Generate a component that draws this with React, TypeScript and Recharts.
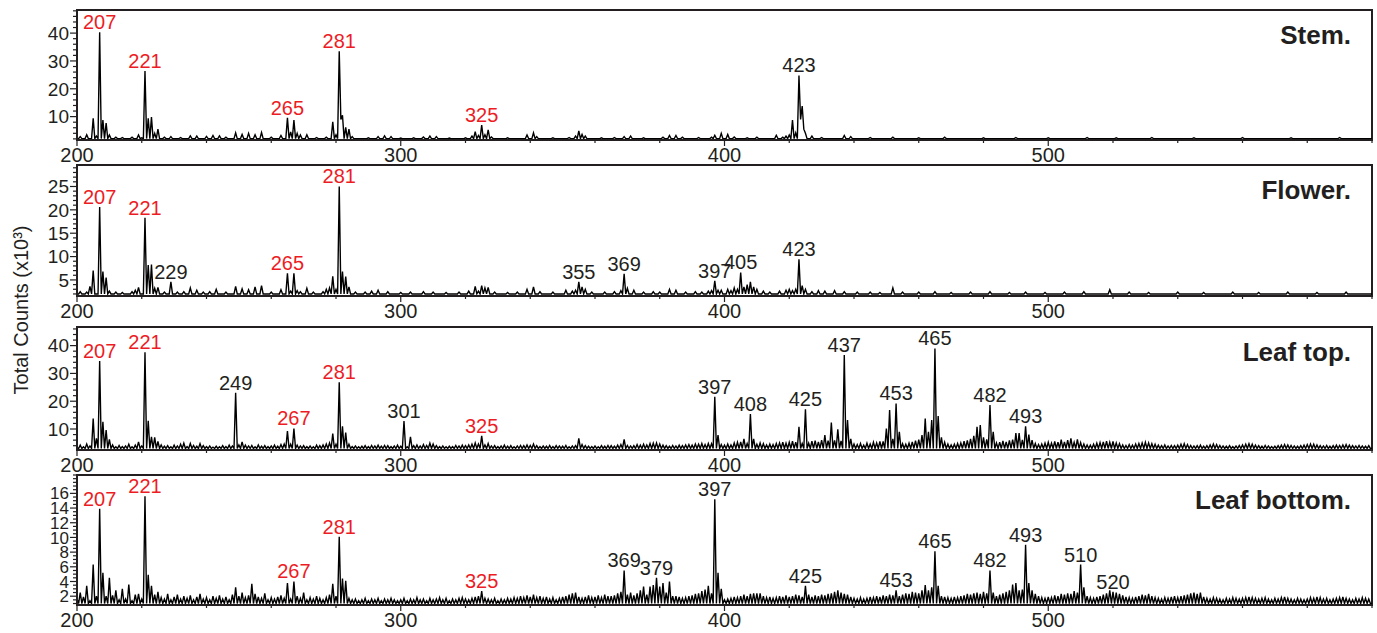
import React from "react";
import { LineChart, Line, XAxis, YAxis, ReferenceArea, ReferenceDot } from "recharts";

const ink = "#231f20";
const red = "#ed1c24";

// m/z ticks, labels only on the hundreds
const xTicks = [200, 220, 240, 260, 280, 300, 320, 340, 360, 380, 400, 420, 440, 460, 480, 500, 520, 540, 560, 580, 600];
const xLabels = [200, 300, 400, 500];

// Stem.
const stemFloor = 2.1;
const stemPeaks = [
	[201, 2.8], [203, 3.5], [205, 9.4], [206, 3.0], [207, 40.3], [208, 8.8], [209, 7.7], [210, 3.4], [212, 2.6], [214, 2.5],
	[217, 2.6], [219, 3.4], [220, 2.4], [221, 26.4], [222, 9.4], [223, 9.8], [224, 4.0], [225, 5.5], [227, 2.6], [229, 2.8],
	[232, 2.5], [235, 3.1], [237, 3.0], [240, 2.9], [242, 3.2], [244, 3.1], [246, 2.6], [249, 4.2], [251, 3.6], [253, 4.0],
	[255, 3.5], [257, 4.3], [260, 2.6], [263, 3.2], [265, 9.6], [266, 4.5], [267, 8.8], [268, 4.0], [269, 3.4], [271, 3.5],
	[274, 2.5], [277, 2.6], [279, 8.1], [280, 3.5], [281, 33.5], [281.5, 9.0], [282, 10.5], [283, 6.1], [284, 5.5], [285, 2.8],
	[290, 2.4], [293, 2.8], [295, 3.1], [297, 2.8], [300, 2.3], [304, 2.4], [307, 2.7], [309, 3.0], [311, 2.8], [315, 2.3],
	[320, 2.4], [322, 3.0], [323, 4.6], [324, 3.2], [325, 7.0], [326, 3.5], [327, 5.2], [328, 2.7], [333, 2.4], [339, 3.4],
	[341, 4.2], [342, 2.8], [347, 2.4], [352, 2.5], [354, 3.0], [355, 4.9], [356, 3.6], [357, 3.0], [362, 2.4], [366, 2.5],
	[369, 2.8], [371, 3.0], [375, 2.4], [381, 2.6], [383, 3.2], [385, 3.2], [387, 2.6], [392, 2.5], [396, 2.6], [397, 3.3],
	[399, 4.0], [401, 3.6], [403, 2.7], [407, 2.4], [410, 2.6], [416, 3.3], [418, 2.6], [419, 3.0], [420, 3.4], [421, 8.8],
	[422, 4.2], [423, 24.8], [423.5, 9.0], [424, 13.8], [424.5, 5.5], [425, 4.0], [427, 3.0], [430, 2.5], [437, 3.2], [439, 2.8],
	[445, 2.5], [452, 2.6], [460, 2.4], [468, 2.6], [480, 2.4], [490, 2.5], [500, 2.4], [512, 2.5], [521, 2.4], [532, 2.5],
	[545, 2.4], [560, 2.5], [575, 2.4], [590, 2.5],
];
const stemRed = [207, 221, 265, 281, 325];
const stemBlack = [423];

// Flower.
const flowerFloor = 2.0;
const flowerPeaks = [
	[201, 2.5], [203, 2.4], [204, 3.6], [205, 7.0], [207, 20.6], [208, 6.8], [209, 5.5], [210, 2.6], [212, 2.4], [214, 2.3],
	[217, 2.5], [218, 2.8], [219, 3.4], [221, 18.3], [222, 8.2], [223, 8.3], [224, 3.2], [225, 3.4], [227, 2.4], [229, 4.6],
	[231, 2.4], [233, 2.5], [235, 3.3], [237, 2.8], [239, 2.4], [241, 2.5], [243, 3.0], [246, 2.4], [249, 3.6], [251, 3.1],
	[253, 2.9], [255, 3.5], [257, 3.8], [260, 2.4], [263, 2.9], [265, 6.4], [266, 2.6], [267, 6.4], [268, 2.7], [269, 2.5],
	[271, 3.2], [273, 2.4], [276, 2.5], [277, 3.0], [278, 3.3], [279, 5.8], [280, 3.0], [281, 25.0], [282, 6.8], [283, 5.7],
	[284, 3.5], [286, 2.4], [289, 2.4], [291, 2.6], [293, 2.8], [296, 2.5], [300, 2.3], [303, 2.4], [307, 2.5], [310, 2.4],
	[314, 2.3], [318, 2.4], [321, 2.6], [323, 3.6], [324, 2.6], [325, 3.8], [326, 3.3], [327, 3.4], [329, 2.4], [333, 2.3],
	[336, 2.4], [339, 3.0], [341, 3.5], [343, 2.5], [347, 2.4], [351, 2.8], [353, 2.6], [354, 2.8], [355, 4.6], [356, 3.5],
	[357, 3.0], [359, 2.4], [363, 2.4], [366, 2.5], [368, 2.7], [369, 6.3], [370, 3.2], [372, 2.8], [375, 2.4], [378, 2.5],
	[380, 2.4], [383, 3.0], [385, 2.8], [388, 2.4], [391, 2.5], [393, 2.4], [395, 2.6], [396, 2.7], [397, 4.8], [398, 2.8],
	[399, 2.8], [401, 3.0], [402, 2.7], [403, 3.3], [404, 3.0], [405, 6.6], [406, 3.5], [407, 4.0], [408, 4.6], [409, 3.5],
	[410, 3.0], [412, 2.6], [414, 2.4], [417, 2.6], [419, 2.8], [420, 3.0], [421, 2.7], [422, 3.0], [423, 9.4], [424, 3.8],
	[425, 3.0], [427, 2.5], [429, 2.7], [431, 2.6], [434, 2.7], [437, 2.5], [441, 2.4], [445, 2.4], [448, 2.3], [452, 3.3],
	[455, 2.4], [460, 2.4], [465, 2.5], [470, 2.3], [476, 2.4], [482, 2.5], [488, 2.3], [493, 2.4], [499, 2.3], [505, 2.4],
	[511, 2.5], [519, 2.9], [525, 2.4], [531, 2.3], [540, 2.4], [548, 2.3], [557, 2.4], [565, 2.3], [574, 2.4], [583, 2.3],
	[592, 2.4],
];
const flowerRed = [207, 221, 265, 281];
const flowerBlack = [229, 355, 369, 397, 405, 423];

// Leaf top. (grass = background level at m/z 200..599)
const leafTopFloor = 3.0;
const leafTopGrass = [
	3.5, 4.2, 3.6, 4.6, 3.9, 4.8, 4.0, 4.4, 3.8, 4.2, 4.0, 4.3, 3.6, 4.1, 3.7, 3.9, 4.5, 3.6, 4.2, 4.7,
	3.9, 4.0, 4.2, 4.4, 4.1, 4.6, 4.3, 3.8, 4.0, 3.6, 4.2, 3.9, 4.5, 4.9, 3.7, 4.8, 4.1, 3.8, 4.7, 4.0,
	3.7, 3.9, 3.5, 3.8, 3.6, 4.0, 3.7, 4.2, 3.9, 4.1, 4.3, 4.6, 4.2, 3.9, 4.1, 3.6, 4.3, 3.8, 4.0, 3.7,
	3.9, 4.2, 3.8, 4.4, 4.6, 4.3, 4.0, 4.5, 4.2, 3.9, 4.0, 3.7, 3.9, 3.6, 4.2, 4.0, 4.3, 4.6, 5.0, 4.4,
	4.8, 4.4, 4.1, 4.3, 4.0, 3.7, 3.9, 3.6, 3.8, 4.0, 3.7, 4.1, 3.9, 4.2, 3.8, 4.1, 4.0, 3.7, 3.9, 4.2,
	3.8, 4.0, 3.6, 4.1, 4.0, 4.3, 3.9, 4.4, 4.1, 4.9, 4.6, 4.0, 3.7, 3.9, 3.6, 3.8, 3.7, 4.1, 3.9, 4.2,
	4.0, 4.3, 4.5, 5.0, 4.6, 4.8, 4.3, 4.5, 3.9, 4.0, 3.7, 3.9, 4.2, 3.8, 4.0, 3.6, 3.9, 4.1, 4.0, 4.3,
	4.1, 4.3, 4.0, 3.7, 3.9, 3.8, 4.1, 3.7, 4.0, 3.9, 3.8, 4.1, 3.6, 3.9, 4.0, 4.2, 4.4, 4.0, 3.8, 3.7,
	3.9, 3.6, 4.0, 3.8, 4.1, 4.0, 3.8, 4.2, 4.4, 4.3, 4.1, 3.9, 4.0, 4.4, 4.2, 4.5, 4.3, 4.7, 4.9, 4.4,
	4.6, 4.2, 4.0, 3.8, 4.1, 3.9, 4.2, 4.0, 4.3, 4.4, 4.2, 4.6, 4.5, 4.8, 4.4, 5.0, 4.7, 4.6, 5.1, 4.4,
	4.2, 4.6, 4.3, 5.0, 5.2, 4.9, 5.5, 4.8, 4.7, 5.6, 4.5, 5.0, 4.7, 4.3, 4.6, 4.4, 4.8, 5.0, 5.3, 4.9,
	5.2, 5.6, 5.3, 5.5, 4.8, 5.2, 4.9, 5.6, 5.8, 5.4, 6.0, 6.3, 5.8, 6.6, 5.9, 6.5, 5.7, 6.1, 5.4, 5.0,
	4.6, 4.4, 4.8, 4.2, 4.9, 4.6, 5.2, 5.0, 5.5, 5.3, 5.6, 5.8, 6.2, 5.6, 5.0, 4.7, 4.5, 4.9, 5.4, 5.8,
	6.2, 6.0, 6.4, 6.8, 7.0, 7.2, 6.5, 5.9, 5.2, 4.6, 4.3, 4.5, 4.8, 5.0, 5.6, 5.9, 6.3, 6.6, 6.9, 7.2,
	6.8, 6.3, 6.0, 5.6, 5.0, 5.3, 5.7, 5.4, 5.9, 6.2, 6.6, 6.4, 6.1, 6.8, 6.0, 5.4, 4.8, 4.4, 4.6, 4.9,
	5.2, 4.9, 5.5, 5.3, 5.8, 5.4, 6.0, 5.6, 5.2, 5.7, 5.1, 4.6, 4.3, 4.2, 4.5, 4.9, 5.1, 5.4, 5.6, 5.2,
	5.5, 5.0, 4.7, 4.3, 4.1, 4.4, 4.2, 4.6, 4.8, 5.0, 5.2, 5.0, 4.7, 4.5, 4.2, 4.0, 4.3, 3.9, 4.1, 4.0,
	4.2, 4.5, 4.7, 4.4, 4.1, 3.9, 4.0, 4.2, 3.8, 4.0, 4.3, 4.6, 4.4, 4.1, 3.9, 3.8, 4.0, 3.7, 3.9, 4.1,
	4.3, 4.5, 4.7, 4.5, 4.2, 4.0, 3.8, 4.1, 3.9, 3.7, 3.8, 4.0, 4.2, 4.4, 4.3, 4.1, 3.9, 3.8, 4.0, 4.2,
	4.4, 4.6, 4.5, 4.3, 4.0, 3.9, 4.1, 3.8, 4.0, 4.2, 4.1, 4.3, 4.4, 4.2, 4.0, 3.9, 4.1, 3.9, 3.8, 4.0,
];
const leafTopPeaks = [
	[205, 13.8], [206, 6.6], [207, 34.5], [208, 12.6], [209, 9.6], [210, 6.3], [219, 5.4], [221, 37.6], [222, 13.0], [223, 7.2],
	[224, 7.0], [225, 5.5], [249, 23.0], [251, 5.4], [265, 9.3], [266, 4.5], [267, 10.2], [279, 8.4], [280, 4.5], [281, 26.8],
	[282, 11.0], [283, 8.7], [284, 4.5], [301, 12.9], [303, 7.2], [323, 5.0], [325, 7.5], [327, 4.8], [341, 4.6], [355, 6.6],
	[369, 6.3], [377, 4.8], [379, 5.0], [395, 4.8], [397, 21.6], [398, 7.8], [405, 5.4], [406, 6.5], [408, 15.4], [409, 6.5],
	[421, 5.6], [423, 10.8], [425, 17.1], [431, 7.8], [433, 12.3], [435, 9.9], [437, 36.6], [438, 13.2], [439, 6.5], [449, 5.5],
	[450, 10.2], [451, 16.8], [452, 6.5], [453, 19.2], [454, 9.0], [461, 7.8], [462, 13.8], [463, 9.0], [464, 13.2], [465, 39.0],
	[466, 14.7], [467, 7.0], [476, 6.5], [477, 7.5], [478, 10.8], [479, 11.4], [480, 7.0], [482, 18.6], [483, 9.0], [490, 8.5],
	[491, 8.5], [493, 11.0], [494, 8.0], [495, 6.0], [504, 6.2], [507, 6.6], [509, 6.3],
];
const leafTopRed = [207, 221, 267, 281, 325];
const leafTopBlack = [249, 301, 397, 408, 425, 437, 453, 465, 482, 493];

// Leaf bottom.
const leafBottomFloor = 1.0;
const leafBottomGrass = [
	1.7, 1.5, 1.9, 1.6, 1.4, 1.8, 1.6, 2.0, 1.7, 1.9, 1.6, 2.1, 1.9, 1.5, 2.0, 1.6, 1.8, 1.4, 2.2, 1.9,
	1.6, 1.8, 1.9, 2.2, 2.0, 2.4, 1.8, 1.6, 2.3, 1.5, 1.9, 2.2, 1.6, 2.0, 1.7, 2.1, 1.5, 1.9, 2.3, 1.6,
	1.8, 1.5, 2.0, 1.7, 2.1, 1.6, 1.9, 1.5, 2.2, 1.7, 2.0, 2.4, 1.8, 2.1, 1.6, 2.3, 1.9, 1.7, 2.0, 1.5,
	1.8, 1.6, 1.9, 2.1, 1.7, 1.9, 1.6, 1.8, 2.0, 1.7, 1.9, 1.5, 1.8, 1.6, 2.0, 1.7, 1.5, 1.8, 2.2, 1.9,
	2.0, 1.8, 1.9, 2.1, 1.7, 1.5, 1.6, 1.4, 1.5, 1.7, 1.4, 1.6, 1.5, 1.7, 1.4, 1.6, 1.5, 1.7, 1.5, 1.4,
	1.5, 1.7, 1.4, 1.6, 1.5, 1.8, 1.5, 1.6, 1.4, 1.7, 1.5, 1.6, 1.8, 1.5, 1.7, 1.4, 1.6, 1.5, 1.7, 1.8,
	1.6, 1.5, 1.7, 1.8, 2.0, 1.9, 1.7, 1.6, 1.5, 1.7, 1.4, 1.6, 1.5, 1.7, 1.6, 1.8, 1.7, 2.0, 1.8, 2.1,
	1.9, 2.2, 1.8, 2.0, 1.7, 1.9, 1.6, 1.8, 1.5, 1.7, 1.9, 2.0, 2.2, 2.4, 1.8, 1.9, 1.7, 1.9, 2.1, 1.8,
	1.9, 2.1, 1.8, 2.2, 2.0, 2.4, 2.1, 2.3, 2.6, 2.0, 2.2, 2.5, 2.1, 2.4, 2.8, 3.3, 2.6, 3.0, 3.5, 2.8,
	3.3, 2.7, 2.5, 2.4, 2.2, 2.0, 1.9, 1.7, 1.8, 2.0, 2.1, 2.3, 2.4, 2.7, 2.9, 3.0, 2.8, 2.5, 2.9, 2.4,
	1.8, 1.6, 1.7, 1.9, 1.8, 2.0, 2.2, 2.0, 2.3, 2.1, 2.4, 2.2, 2.0, 1.8, 1.9, 1.7, 1.8, 2.0, 1.9, 2.1,
	1.9, 2.0, 2.2, 2.1, 1.9, 2.0, 2.2, 1.9, 2.1, 2.0, 2.2, 2.1, 2.3, 2.4, 2.6, 2.8, 2.5, 2.6, 2.2, 1.9,
	1.7, 1.6, 1.8, 1.6, 1.7, 1.9, 1.8, 2.0, 1.9, 2.1, 2.0, 2.2, 2.1, 2.3, 2.0, 2.2, 2.4, 2.3, 2.6, 2.5,
	2.4, 2.8, 3.0, 2.9, 3.2, 3.1, 2.6, 2.2, 1.9, 1.8, 1.7, 1.9, 1.8, 2.0, 2.1, 2.3, 2.2, 2.4, 2.5, 2.3,
	2.6, 2.4, 2.5, 2.3, 2.0, 2.2, 2.4, 2.6, 2.8, 3.3, 3.8, 3.4, 2.9, 3.0, 2.8, 2.6, 2.3, 2.0, 1.8, 1.7,
	1.9, 1.8, 2.1, 2.0, 2.3, 2.2, 2.4, 2.3, 2.7, 2.5, 2.6, 2.4, 2.0, 1.8, 1.7, 1.9, 2.0, 2.2, 2.4, 2.6,
	2.8, 2.5, 2.3, 2.1, 1.9, 1.8, 1.7, 1.9, 2.0, 2.2, 2.1, 2.3, 2.0, 1.8, 1.7, 1.6, 1.8, 1.7, 1.9, 2.0,
	1.8, 2.0, 2.1, 2.2, 2.4, 2.5, 2.3, 2.1, 1.9, 1.7, 1.6, 1.8, 1.7, 1.6, 1.5, 1.7, 1.6, 1.8, 1.7, 1.6,
	1.7, 1.8, 1.9, 1.8, 1.7, 1.6, 1.7, 1.8, 1.6, 1.5, 1.7, 1.6, 1.8, 1.9, 1.7, 1.6, 1.5, 1.7, 1.6, 1.5,
	1.6, 1.8, 1.7, 1.9, 1.8, 1.6, 1.7, 1.5, 1.6, 1.7, 1.8, 1.9, 1.7, 1.6, 1.5, 1.7, 1.6, 1.8, 1.7, 1.6,
];
const leafBottomPeaks = [
	[201, 2.5], [203, 3.4], [205, 6.3], [206, 2.0], [207, 13.9], [208, 5.2], [209, 2.0], [210, 4.5], [212, 2.8], [214, 3.0],
	[216, 3.6], [219, 2.3], [221, 15.6], [222, 4.9], [223, 3.4], [224, 2.2], [225, 2.6], [249, 3.2], [251, 2.5], [254, 3.7],
	[258, 2.4], [265, 3.8], [267, 4.0], [270, 2.5], [279, 3.7], [281, 10.1], [282, 4.4], [283, 4.1], [323, 1.9], [325, 2.7],
	[354, 2.5], [365, 2.0], [367, 2.4], [369, 5.5], [370, 2.2], [376, 2.2], [377, 3.3], [379, 4.5], [381, 3.8], [383, 4.0],
	[384, 2.0], [395, 3.4], [396, 2.4], [397, 15.2], [398, 5.2], [399, 3.0], [400, 1.5], [409, 2.4], [411, 2.4], [425, 3.4],
	[435, 2.8], [437, 2.3], [453, 2.8], [462, 3.5], [463, 2.8], [465, 8.1], [466, 3.4], [467, 2.0], [482, 5.5], [483, 2.5],
	[489, 3.6], [490, 3.8], [491, 2.8], [493, 9.0], [494, 3.8], [495, 2.8], [508, 2.7], [510, 6.3], [511, 3.2], [519, 2.8],
	[520, 2.6], [547, 2.5],
];
const leafBottomRed = [207, 221, 267, 281, 325];
const leafBottomBlack = [369, 379, 397, 425, 453, 465, 482, 493, 510, 520];

// spectrum line: listed points, dropping to the floor between separate peaks
function buildSpectrum(peaks: number[][], floor: number, grass?: number[]) {
	const m = new Map<number, number>();
	if (grass) grass.forEach((h, i) => m.set(200 + i, h));
	peaks.forEach(([mz, h]) => m.set(mz, h));
	const pts = [...m.entries()].sort((a, b) => a[0] - b[0]);
	const out: { mz: number; v: number }[] = [{ mz: 200, v: floor }];
	let prev = 200;
	pts.forEach(([mz, v]) => {
		const gap = mz - prev;
		if (gap > 1.1) {
			out.push({ mz: prev + 0.5, v: floor }, { mz: mz - 0.5, v: floor });
		} else if (gap >= 0.9) {
			out.push({ mz: prev + gap / 2, v: floor });
		}
		out.push({ mz, v });
		prev = mz;
	});
	out.push({ mz: prev + 0.5, v: floor }, { mz: 600, v: floor });
	return out;
}

const steps = (a: number, b: number, s: number) => {
	const r: number[] = [];
	for (let v = a; v <= b + 1e-9; v += s) r.push(Math.round(v * 10) / 10);
	return r;
};

const panels = [
	{ name: "Stem.", top: 10, bottom: 140, domain: [1.6, 48.3], ticks: steps(2, 48, 2), major: [10, 20, 30, 40], peaks: stemPeaks, data: buildSpectrum(stemPeaks, stemFloor), reds: stemRed, blacks: stemBlack },
	{ name: "Flower.", top: 165, bottom: 296, domain: [1.56, 29.6], ticks: steps(2, 29, 1), major: [5, 10, 15, 20, 25], peaks: flowerPeaks, data: buildSpectrum(flowerPeaks, flowerFloor), reds: flowerRed, blacks: flowerBlack },
	{ name: "Leaf top.", top: 327, bottom: 450, domain: [2.45, 46.7], ticks: steps(4, 46, 2), major: [10, 20, 30, 40], peaks: leafTopPeaks, data: buildSpectrum(leafTopPeaks, leafTopFloor, leafTopGrass), reds: leafTopRed, blacks: leafTopBlack },
	{ name: "Leaf bottom.", top: 475, bottom: 605, domain: [0.8, 18.5], ticks: steps(1, 18.5, 0.5), major: [2, 4, 6, 8, 10, 12, 14, 16], peaks: leafBottomPeaks, data: buildSpectrum(leafBottomPeaks, leafBottomFloor, leafBottomGrass), reds: leafBottomRed, blacks: leafBottomBlack },
];

const XTick = (props: any) => {
	const { x, y, payload } = props;
	const lab = xLabels.includes(payload.value);
	return (
		<g>
			<line x1={x} x2={x} y1={y} y2={y + (lab ? 6 : 3)} stroke={ink} strokeWidth={1.2} />
			{lab && (
				<text x={x} y={y + 8} dy="0.71em" textAnchor="middle" fontSize={20} fill={ink}>
					{payload.value}
				</text>
			)}
		</g>
	);
};

const YTick = (props: any) => {
	const { x, y, payload, major, size } = props;
	const isMajor = major.includes(payload.value);
	return (
		<g>
			<line x1={x} x2={x - (isMajor ? 7 : 4)} y1={y} y2={y} stroke={ink} strokeWidth={1.2} />
			{isMajor && (
				<text x={x - 8} y={y} dy="0.36em" textAnchor="end" fontSize={size} fill={ink}>
					{payload.value}
				</text>
			)}
		</g>
	);
};

const heightAt = (peaks: number[][], mz: number) => (peaks.find((p) => p[0] === mz) || [mz, 0])[1];

export default function App() {
	return (
		<div style={{ position: "absolute", left: 0, top: 0, width: 1377, height: 633, background: "#fff", fontFamily: '"Liberation Sans", Arial, Helvetica, sans-serif' }}>
			{panels.map((p) => (
				<div key={p.name} style={{ position: "absolute", left: 0, top: p.top - 10 }}>
					<LineChart width={1377} height={p.bottom - p.top + 40} data={p.data} margin={{ top: 10, right: 5, bottom: 0, left: 17 }}>
						<XAxis dataKey="mz" type="number" domain={[200, 600]} allowDataOverflow ticks={xTicks} interval={0} tickSize={0} tickMargin={0} tickLine={false} tick={XTick} height={30} axisLine={{ stroke: ink, strokeWidth: 2 }} />
						<YAxis type="number" domain={p.domain} allowDataOverflow ticks={p.ticks} interval={0} tickSize={0} tickMargin={0} tickLine={false} width={60} tick={(t: any) => <YTick {...t} major={p.major} size={p.major.length > 5 ? 17 : 19} />} axisLine={{ stroke: ink, strokeWidth: 2 }} />
						<ReferenceArea x1={200} x2={600} y1={p.domain[0]} y2={p.domain[1]} fill="none" stroke={ink} strokeWidth={2} />
						<Line type="linear" dataKey="v" stroke="#000" strokeWidth={1.4} dot={false} isAnimationActive={false} />
						{[...p.reds.map((m) => [m, 1]), ...p.blacks.map((m) => [m, 0])].map(([m, isRed]) => (
							<ReferenceDot key={m} x={m} y={heightAt(p.peaks, m)} r={0} fill="none" stroke="none" label={{ value: String(m), position: "top", offset: 3, fill: isRed ? red : ink, fontSize: 20 }} />
						))}
					</LineChart>
				</div>
			))}
			<svg width={1377} height={633} style={{ position: "absolute", left: 0, top: 0, pointerEvents: "none" }}>
				<text transform="translate(27.5, 310) rotate(-90)" textAnchor="middle" fontSize={20} fill={ink}>
					Total Counts (x10³)
				</text>
				{panels.map((p) => (
					<text key={p.name} x={1351} y={p.top + 34} textAnchor="end" fontSize={26} fontWeight="bold" fill={ink}>
						{p.name}
					</text>
				))}
			</svg>
		</div>
	);
}
